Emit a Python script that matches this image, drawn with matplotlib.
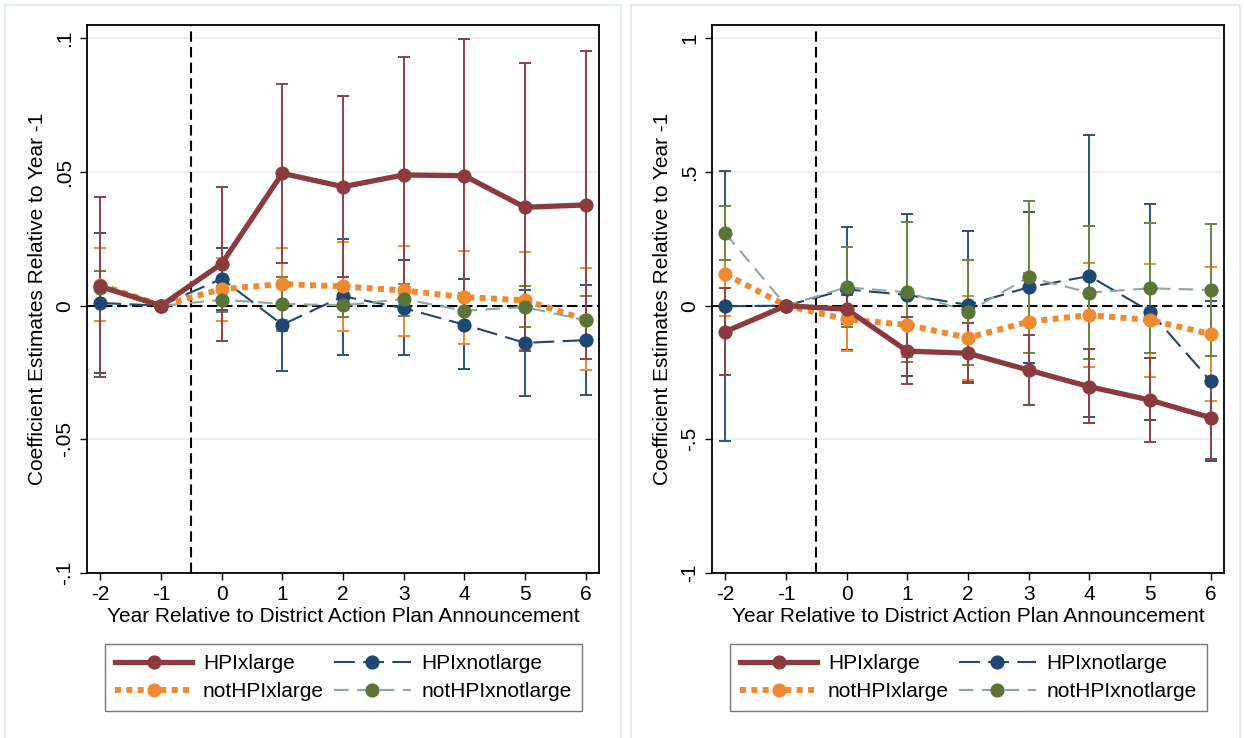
import numpy as np
import matplotlib
matplotlib.use('Agg')
import matplotlib.pyplot as plt
from matplotlib.lines import Line2D
from matplotlib.patches import Rectangle

plt.rcParams['font.family'] = ['Liberation Sans', 'DejaVu Sans']

# -------------------- Data --------------------

years = [-2, -1, 0, 1, 2, 3, 4, 5, 6]
nan = np.nan

# left panel
L_hpi_large = [0.0072, 0, 0.0157, 0.0495, 0.0445, 0.0489, 0.0486, 0.0368, 0.0377]
L_hpi_large_lo = [-0.0266, nan, -0.0133, 0.0159, 0.0109, 0.0048, -0.0027, -0.0170, -0.0199]
L_hpi_large_hi = [0.0406, nan, 0.0445, 0.0828, 0.0784, 0.0930, 0.0999, 0.0909, 0.0953]

L_hpi_notlarge = [0.0010, 0, 0.0101, -0.0071, 0.0035, -0.0009, -0.0071, -0.0139, -0.0129]
L_hpi_notlarge_lo = [-0.0251, nan, -0.0015, -0.0245, -0.0183, -0.0185, -0.0236, -0.0336, -0.0335]
L_hpi_notlarge_hi = [0.0271, nan, 0.0215, 0.0109, 0.0250, 0.0172, 0.0100, 0.0060, 0.0076]

L_nothpi_large = [0.0078, 0, 0.0062, 0.0081, 0.0072, 0.0057, 0.0032, 0.0020, -0.0052]
L_nothpi_large_lo = [-0.0056, nan, -0.0058, -0.0054, -0.0096, -0.0114, -0.0143, -0.0164, -0.0241]
L_nothpi_large_hi = [0.0216, nan, 0.0178, 0.0216, 0.0240, 0.0224, 0.0206, 0.0199, 0.0140]

L_nothpi_notlarge = [0.0065, 0, 0.0022, 0.0007, 0.0001, 0.0025, -0.0019, -0.0005, -0.0055]
L_nothpi_notlarge_lo = [0.0002, nan, -0.0025, -0.0093, -0.0042, -0.0037, -0.0083, -0.0080, -0.0139]
L_nothpi_notlarge_hi = [0.0128, nan, 0.0072, 0.0107, 0.0044, 0.0082, 0.0047, 0.0072, 0.0035]

# right panel
R_hpi_large = [-0.097, 0, -0.0135, -0.170, -0.178, -0.241, -0.303, -0.353, -0.419]
R_hpi_large_lo = [-0.260, nan, -0.067, -0.294, -0.290, -0.372, -0.440, -0.509, -0.572]
R_hpi_large_hi = [0.065, nan, 0.040, -0.043, -0.066, -0.110, -0.162, -0.197, -0.266]

R_hpi_notlarge = [-0.002, 0, 0.061, 0.040, 0.003, 0.069, 0.111, -0.022, -0.282]
R_hpi_notlarge_lo = [-0.508, nan, -0.166, -0.262, -0.285, -0.213, -0.416, -0.428, -0.580]
R_hpi_notlarge_hi = [0.504, nan, 0.293, 0.343, 0.281, 0.351, 0.637, 0.382, 0.018]

R_nothpi_large = [0.118, 0, -0.051, -0.072, -0.120, -0.060, -0.035, -0.054, -0.106]
R_nothpi_large_lo = [-0.039, nan, -0.170, -0.191, -0.278, -0.241, -0.228, -0.266, -0.356]
R_nothpi_large_hi = [0.275, nan, 0.068, 0.047, 0.036, 0.121, 0.161, 0.156, 0.146]

R_nothpi_notlarge = [0.271, 0, 0.069, 0.050, -0.022, 0.106, 0.049, 0.065, 0.059]
R_nothpi_notlarge_lo = [0.171, nan, -0.081, -0.210, -0.222, -0.178, -0.201, -0.178, -0.187]
R_nothpi_notlarge_hi = [0.373, nan, 0.219, 0.312, 0.171, 0.390, 0.298, 0.311, 0.306]

L_yticks = [-0.1, -0.05, 0, 0.05, 0.1]
L_yticklabels = ['-.1', '-.05', '0', '.05', '.1']
R_yticks = [-1, -0.5, 0, 0.5, 1]
R_yticklabels = ['-1', '-.5', '0', '.5', '1']

xlabel = 'Year Relative to District Action Plan Announcement'
ylabel = 'Coefficient Estimates Relative to Year -1'

# -------------------- Styles --------------------

maroon = '#8B3A3E'
navy = '#1E4773'
orange = '#F08A30'
green = '#5B7536'
sage = '#8FA89E'

# marker colour, line colour, bar colour, lw, dashes
styles = {
    'HPIxlarge': (maroon, maroon, '#8E4245', 3.8, None),
    'HPIxnotlarge': (navy, navy, '#2A5482', 1.5, (10, 4)),
    'notHPIxlarge': (orange, orange, orange, 4.3, (1.0, 0.9)),
    'notHPIxnotlarge': (green, sage, '#6A8640', 1.5, (7, 4)),
}
draw_order = ['HPIxnotlarge', 'notHPIxlarge', 'notHPIxnotlarge', 'HPIxlarge']
legend_order = ['HPIxlarge', 'notHPIxlarge', 'HPIxnotlarge', 'notHPIxnotlarge']

FS = 15
MS = 9.2


def draw_panel(ax, data, ylim, yticks, yticklabels):
    x = np.array(years)
    for y in yticks:
        ax.axhline(y, color='#EAF1F3', lw=1.5, zorder=0)
    ax.axhline(0, color='black', lw=1.5, dashes=(5, 2.2), zorder=1.5)
    ax.axvline(-0.5, color='black', lw=1.5, dashes=(5, 2.5), zorder=1.5)

    for name in draw_order:
        est, lo, hi = [np.array(a, dtype=float) for a in data[name]]
        mcol, lcol, bcol, lw, dashes = styles[name]
        ax.errorbar(x, est, yerr=[est - lo, hi - est], fmt='none', ecolor=bcol,
                    elinewidth=1.4, capsize=4, capthick=1.4, zorder=2)

    handles = {}
    for name in draw_order:
        est = np.array(data[name][0], dtype=float)
        mcol, lcol, bcol, lw, dashes = styles[name]
        line, = ax.plot(x, est, color=lcol, lw=lw, zorder=3, label=name)
        if dashes is not None:
            line.set_dashes(dashes)
            line.set_dash_capstyle('butt')
        ax.plot(x, est, 'o', color=mcol, ms=MS, mec=mcol, zorder=4)
        h = Line2D([0], [0], color=lcol, lw=lw, marker='o', ms=MS,
                   mfc=mcol, mec=mcol)
        if dashes is not None:
            h.set_dashes(dashes)
            h.set_dash_capstyle('butt')
        handles[name] = h

    ax.set_xlim(-2.22, 6.22)
    ax.set_ylim(*ylim)
    ax.set_xticks(years)
    ax.set_xticklabels([str(v) for v in years])
    ax.set_yticks(yticks)
    ax.set_yticklabels(yticklabels, rotation=90, va='center')
    ax.tick_params(axis='both', direction='out', length=5, width=1,
                   labelsize=FS, pad=4)
    for s in ax.spines.values():
        s.set_linewidth(1.3)
        s.set_color('black')
    ax.set_xlabel(xlabel, fontsize=FS, labelpad=2)
    ax.set_ylabel(ylabel, fontsize=FS, labelpad=6)

    leg = ax.legend([handles[n] for n in legend_order], legend_order,
                    ncol=2, loc='center', mode='expand',
                    bbox_to_anchor=(0.0146, -0.2536, 0.9727, 0.1259),
                    fontsize=FS, handlelength=3.7, handletextpad=0.5,
                    labelspacing=0.42, borderpad=0.5, frameon=True,
                    fancybox=False, edgecolor='#555555')
    leg.get_frame().set_linewidth(1.0)


fig = plt.figure(figsize=(12.44, 7.38), dpi=100)

# light panel borders
for x0, x1 in [(5, 621), (631, 1240)]:
    fig.patches.append(Rectangle((x0 / 1244, -0.01), (x1 - x0) / 1244, 1.01 - 5 / 738,
                                 transform=fig.transFigure, fill=False,
                                 edgecolor='#E4EBED', lw=1.5))

axL = fig.add_axes([87 / 1244, 1 - 573 / 738, 512 / 1244, 548 / 738])
axR = fig.add_axes([712 / 1244, 1 - 573 / 738, 512 / 1244, 548 / 738])

left_data = {
    'HPIxlarge': (L_hpi_large, L_hpi_large_lo, L_hpi_large_hi),
    'HPIxnotlarge': (L_hpi_notlarge, L_hpi_notlarge_lo, L_hpi_notlarge_hi),
    'notHPIxlarge': (L_nothpi_large, L_nothpi_large_lo, L_nothpi_large_hi),
    'notHPIxnotlarge': (L_nothpi_notlarge, L_nothpi_notlarge_lo, L_nothpi_notlarge_hi),
}
right_data = {
    'HPIxlarge': (R_hpi_large, R_hpi_large_lo, R_hpi_large_hi),
    'HPIxnotlarge': (R_hpi_notlarge, R_hpi_notlarge_lo, R_hpi_notlarge_hi),
    'notHPIxlarge': (R_nothpi_large, R_nothpi_large_lo, R_nothpi_large_hi),
    'notHPIxnotlarge': (R_nothpi_notlarge, R_nothpi_notlarge_lo, R_nothpi_notlarge_hi),
}

draw_panel(axL, left_data, (-0.1, 0.105), L_yticks, L_yticklabels)
draw_panel(axR, right_data, (-1, 1.05), R_yticks, R_yticklabels)

fig.savefig('out.png', dpi=100)
